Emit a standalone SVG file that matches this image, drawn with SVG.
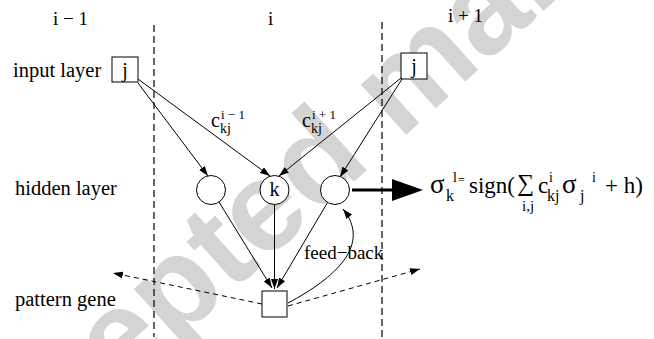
<svg xmlns="http://www.w3.org/2000/svg" width="654" height="339" viewBox="0 0 654 339">
<style>
  text { font-family: "Liberation Serif", "Times New Roman", serif; fill: #000; }
  .lbl { font-size: 20.5px; }
  .col { font-size: 19px; }
  .nd { font-size: 20px; }
  .big { font-size: 23px; }
  .sup { font-size: 13px; }
  .sub { font-size: 14px; }
  .fsup { font-size: 14px; }
  .fsub { font-size: 16px; }
  .box { fill: #fff; stroke: #000; stroke-width: 1; }
  .edge { fill: none; stroke: #000; stroke-width: 1; }
  .dash { fill: none; stroke: #000; stroke-width: 1; stroke-dasharray: 5 4; }
  .sep { fill: none; stroke: #000; stroke-width: 1.2; stroke-dasharray: 7 4; }
  .wm { font-family: "Liberation Sans", Arial, sans-serif; font-weight: bold; font-size: 128px; fill: #d4d4d4; }
</style>
<defs>
  <marker id="ah" markerUnits="userSpaceOnUse" markerWidth="10" markerHeight="7" refX="10" refY="3.5" orient="auto">
    <path d="M0,0 L10,3.5 L0,7 z" fill="#000"/>
  </marker>
</defs>
<rect width="654" height="339" fill="#fff"/>
<text class="wm" x="-55" y="550" transform="rotate(-42 -55 550)">Accepted manuscript</text>

<g id="columns">
  <line class="sep" x1="154" y1="25" x2="154" y2="337"/>
  <line class="sep" x1="382" y1="22" x2="382" y2="337"/>
  <text class="col" x="53" y="25">i − 1</text>
  <text class="col" x="268" y="25">i</text>
  <text class="col" x="448" y="22">i + 1</text>
</g>

<g id="row-labels">
  <text class="lbl" x="13" y="77">input layer</text>
  <text class="lbl" x="15" y="195">hidden layer</text>
  <text class="lbl" x="15" y="306">pattern gene</text>
</g>

<g id="connectors">
  <line class="edge" x1="138" y1="83" x2="208" y2="176" marker-end="url(#ah)"/>
  <line class="edge" x1="138" y1="79" x2="270" y2="176" marker-end="url(#ah)"/>
  <line class="edge" x1="401" y1="78" x2="279" y2="176" marker-end="url(#ah)"/>
  <line class="edge" x1="402" y1="79" x2="340" y2="177" marker-end="url(#ah)"/>
  <line class="edge" x1="219" y1="202" x2="272" y2="288" marker-end="url(#ah)"/>
  <line class="edge" x1="274.5" y1="204.5" x2="274.5" y2="289" marker-end="url(#ah)"/>
  <line class="edge" x1="327.5" y1="202.5" x2="277" y2="288" marker-end="url(#ah)"/>
  <path class="edge" d="M288,303 C335,278 372,245 343,209" marker-end="url(#ah)"/>
  <line class="dash" x1="262" y1="304" x2="113" y2="273" marker-end="url(#ah)"/>
  <line class="dash" x1="288" y1="306" x2="420" y2="269" marker-end="url(#ah)"/>
  <line x1="352" y1="190" x2="394" y2="190" stroke="#000" stroke-width="3"/>
  <polygon points="392,179 423,190 392,201" fill="#000"/>
  <text class="col" x="304" y="259">feed−back</text>
</g>

<g id="input-left">
  <rect class="box" x="112" y="57" width="26" height="25"/>
  <text class="nd" x="125" y="77" text-anchor="middle">j</text>
</g>
<g id="input-right">
  <rect class="box" x="401" y="53" width="26" height="26"/>
  <text class="nd" x="414" y="73" text-anchor="middle">j</text>
</g>
<g id="hidden-left">
  <circle class="box" cx="211" cy="190" r="14.5"/>
</g>
<g id="hidden-k">
  <circle class="box" cx="274.5" cy="190" r="14.5"/>
  <text class="nd" x="274.5" y="196" text-anchor="middle">k</text>
</g>
<g id="hidden-right">
  <circle class="box" cx="335" cy="190" r="14.5"/>
</g>
<g id="pattern-gene">
  <rect class="box" x="262" y="291" width="25" height="26"/>
</g>

<g id="weight-left">
  <text class="nd" x="211" y="127">c</text>
  <text class="sup" x="221" y="119">i − 1</text>
  <text class="sub" x="220" y="133">kj</text>
</g>
<g id="weight-right">
  <text class="nd" x="302" y="127">c</text>
  <text class="sup" x="312" y="119">i + 1</text>
  <text class="sub" x="311" y="133">kj</text>
</g>

<g id="formula">
  <text style="font-size:27px" x="430" y="193">σ</text>
  <text class="fsup" x="453" y="182">l</text>
  <text style="font-size:12px" x="458" y="184">=</text>
  <text class="fsub" x="446" y="201">k</text>
  <text class="big" x="469" y="193">sign(</text>
  <text style="font-size:24px" x="517" y="191">∑</text>
  <text style="font-size:15px" x="522" y="211">i,j</text>
  <text class="big" x="538" y="193">c</text>
  <text class="fsup" x="549" y="182">i</text>
  <text class="fsub" x="547" y="201">kj</text>
  <text style="font-size:27px" x="562" y="193">σ</text>
  <text class="fsub" x="580" y="201">j</text>
  <text class="fsup" x="592" y="182">i</text>
  <text class="big" x="605" y="193">+ h)</text>
</g>
</svg>
